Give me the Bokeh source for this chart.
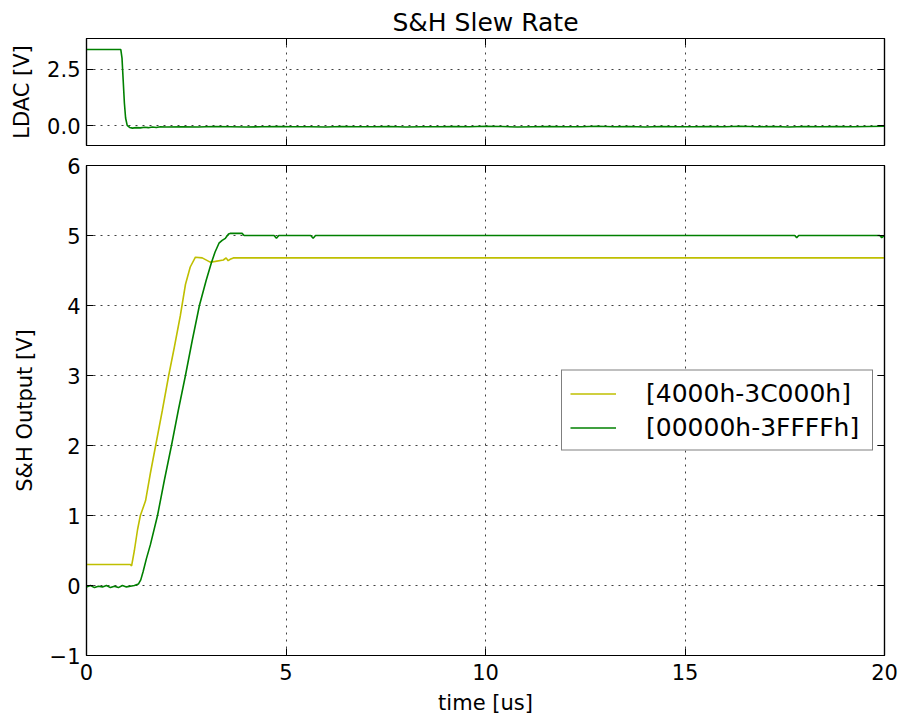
from bokeh.plotting import figure
from bokeh.models import (Range1d, LinearAxis, FixedTicker, Legend, LegendItem,
                          CustomJSTickFormatter, NumeralTickFormatter)
from bokeh.layouts import column
from bokeh.embed import file_html
from bokeh.resources import INLINE

FONT = "DejaVu Sans"
YELLOW = "#bfbf00"
GREEN = "#008000"

# LDAC control signal (top panel)
ldac_t = [0.0, 0.86, 0.89, 0.92, 0.95, 0.98, 1.02, 1.08, 1.15, 1.25, 1.35, 1.45,
          1.55, 1.65, 1.75, 1.85,
          2.0, 2.4, 2.8, 3.2, 3.6, 4.0, 4.4, 4.8, 5.2, 5.6, 6.0, 6.4, 6.8, 7.2,
          7.6, 8.0, 8.4, 8.8, 9.2, 9.6, 10.0, 10.4, 10.8, 11.2, 11.6, 12.0, 12.4,
          12.8, 13.2, 13.6, 14.0, 14.4, 14.8, 15.2, 15.6, 16.0, 16.4, 16.8, 17.2,
          17.6, 18.0, 18.4, 18.8, 19.2, 19.6, 20.0]
ldac_v = [3.38, 3.38, 3.0, 2.0, 1.0, 0.35, 0.02, -0.07, -0.10, -0.08, -0.09, -0.06,
          -0.08, -0.05, -0.07, -0.04,
          -0.05, -0.04, -0.05, -0.03, -0.04, -0.05, -0.04, -0.03, -0.04, -0.04,
          -0.05, -0.03, -0.04, -0.04, -0.03, -0.05, -0.04, -0.04, -0.03, -0.04,
          -0.02, -0.03, -0.05, -0.04, -0.03, -0.04, -0.04, -0.02, -0.04, -0.03,
          -0.05, -0.03, -0.04, -0.04, -0.03, -0.04, -0.02, -0.04, -0.03, -0.05,
          -0.03, -0.04, -0.03, -0.04, -0.03, -0.02]

# S&H output, code range 4000h-3C000h
yel_t = [0.0, 1.1, 1.13, 1.2, 1.28, 1.35, 1.48, 1.6, 1.75, 1.9, 2.06, 2.2, 2.35,
         2.48, 2.6, 2.73, 2.9, 3.1, 3.23, 3.43, 3.5, 3.55, 3.6, 3.68, 20.0]
yel_v = [0.3, 0.3, 0.28, 0.5, 0.8, 1.0, 1.21, 1.6, 2.05, 2.5, 3.0, 3.4, 3.85,
         4.3, 4.55, 4.69, 4.68, 4.62, 4.63, 4.65, 4.68, 4.64, 4.66, 4.68, 4.68]

# S&H output, code range 00000h-3FFFFh
grn_t = [0.0, 0.1, 0.2, 0.3, 0.4, 0.5, 0.6, 0.7, 0.8, 0.9, 1.0, 1.1, 1.2, 1.3,
         1.36, 1.42, 1.5, 1.6, 1.78, 1.95, 2.13, 2.3, 2.48, 2.65, 2.83, 3.0, 3.13,
         3.22, 3.32, 3.4, 3.48, 3.56, 3.6, 3.9, 3.95, 4.7, 4.76, 4.82, 5.62, 5.68,
         5.74, 17.75, 17.8, 17.85, 19.88, 19.93, 20.0]
grn_v = [-0.02, 0.0, -0.03, -0.01, -0.02, 0.0, -0.03, -0.01, -0.03, 0.0, -0.02,
         -0.01, 0.0, 0.02, 0.08, 0.2, 0.38, 0.58, 1.0, 1.5, 2.0, 2.5, 3.0, 3.5,
         4.0, 4.36, 4.61, 4.76, 4.89, 4.93, 4.96, 5.02, 5.03, 5.03, 5.0, 5.0, 4.96,
         5.0, 5.0, 4.96, 5.0, 5.0, 4.97, 5.0, 5.0, 4.97, 5.0]

series_labels = ["[4000h-3C000h]", "[00000h-3FFFFh]"]
x_ticks = [0, 5, 10, 15, 20]
ldac_ticks = [0.0, 2.5]
out_ticks = [-1, 0, 1, 2, 3, 4, 5, 6]


def hide_labels(ax):
    # tick marks only, no tick labels
    ax.major_label_text_font_size = "0px"
    ax.major_label_text_color = None
    ax.major_label_standoff = 0


def style(p, yticks, show_x_labels):
    p.outline_line_color = "black"
    p.outline_line_width = 1.2
    p.background_fill_color = "white"
    p.border_fill_color = "white"
    bottom, left = p.below[0], p.left[0]
    for ax in (bottom, left):
        ax.axis_line_color = "black"
        ax.axis_line_width = 1.2
        ax.major_tick_in = 7
        ax.major_tick_out = 0
        ax.minor_tick_line_color = None
        ax.major_label_text_font = FONT
        ax.major_label_text_font_size = "21px"
        ax.major_label_text_color = "black"
        ax.axis_label_text_font = FONT
        ax.axis_label_text_font_size = "21px"
        ax.axis_label_text_font_style = "normal"
        ax.axis_label_text_color = "black"
    bottom.ticker = FixedTicker(ticks=x_ticks)
    left.ticker = FixedTicker(ticks=yticks)
    left.major_label_standoff = 6
    left.axis_label_standoff = 10
    if show_x_labels:
        bottom.major_label_standoff = 8
        bottom.axis_label_standoff = 8
    else:
        hide_labels(bottom)
    for g in (p.xgrid, p.ygrid):
        g.grid_line_color = "black"
        g.grid_line_alpha = 0.75
        g.grid_line_width = 1
        g.grid_line_dash = "2 5"
    p.xgrid.ticker = FixedTicker(ticks=x_ticks)
    p.ygrid.ticker = FixedTicker(ticks=yticks)
    # tick marks on the opposite spines
    for side, ticks in (("right", yticks), ("above", x_ticks)):
        ax = LinearAxis(ticker=FixedTicker(ticks=ticks))
        ax.major_tick_in = 7
        ax.major_tick_out = 0
        ax.minor_tick_line_color = None
        ax.axis_line_color = "black"
        ax.axis_line_width = 1.2
        hide_labels(ax)
        p.add_layout(ax, side)
    return bottom, left


# top panel: LDAC
p1 = figure(frame_width=798, frame_height=107,
            x_range=Range1d(0, 20), y_range=Range1d(-0.87, 3.87),
            output_backend="svg", toolbar_location=None,
            min_border_left=86, min_border_right=14,
            min_border_top=38, min_border_bottom=10,
            title="S&H Slew Rate")
p1.title.text_font = FONT
p1.title.text_font_size = "25px"
p1.title.text_font_style = "normal"
p1.title.text_color = "black"
p1.title.align = "center"
p1.title.standoff = 4
p1.line(ldac_t, ldac_v, color=GREEN, line_width=1.6)
b1, l1 = style(p1, ldac_ticks, False)
l1.formatter = NumeralTickFormatter(format="0.0")
l1.axis_label = "LDAC [V]"

# bottom panel: S&H output
p2 = figure(frame_width=798, frame_height=490,
            x_range=p1.x_range, y_range=Range1d(-1, 6),
            output_backend="svg", toolbar_location=None,
            min_border_left=86, min_border_right=14,
            min_border_top=10, min_border_bottom=63)
r_y = p2.line(yel_t, yel_v, color=YELLOW, line_width=1.6)
r_g = p2.line(grn_t, grn_v, color=GREEN, line_width=1.6)
b2, l2 = style(p2, out_ticks, True)
l2.formatter = CustomJSTickFormatter(
    code="return tick < 0 ? '\u2212' + Math.abs(tick) : String(tick);")
l2.axis_label = "S&H Output [V]"
b2.axis_label = "time [us]"

legend = Legend(items=[LegendItem(label=series_labels[0], renderers=[r_y]),
                       LegendItem(label=series_labels[1], renderers=[r_g])],
                location="center_right")
legend.margin = 11
legend.padding = 8
legend.spacing = 5
legend.glyph_width = 46
legend.glyph_height = 26
legend.label_height = 26
legend.label_width = 218
legend.label_standoff = 30
legend.label_text_font = FONT
legend.label_text_font_size = "25px"
legend.label_text_color = "black"
legend.border_line_color = "black"
legend.border_line_width = 1.2
legend.background_fill_alpha = 1
p2.add_layout(legend, "center")

layout = column(p1, p2, spacing=0)
open("out.html", "w").write(file_html(layout, INLINE))
